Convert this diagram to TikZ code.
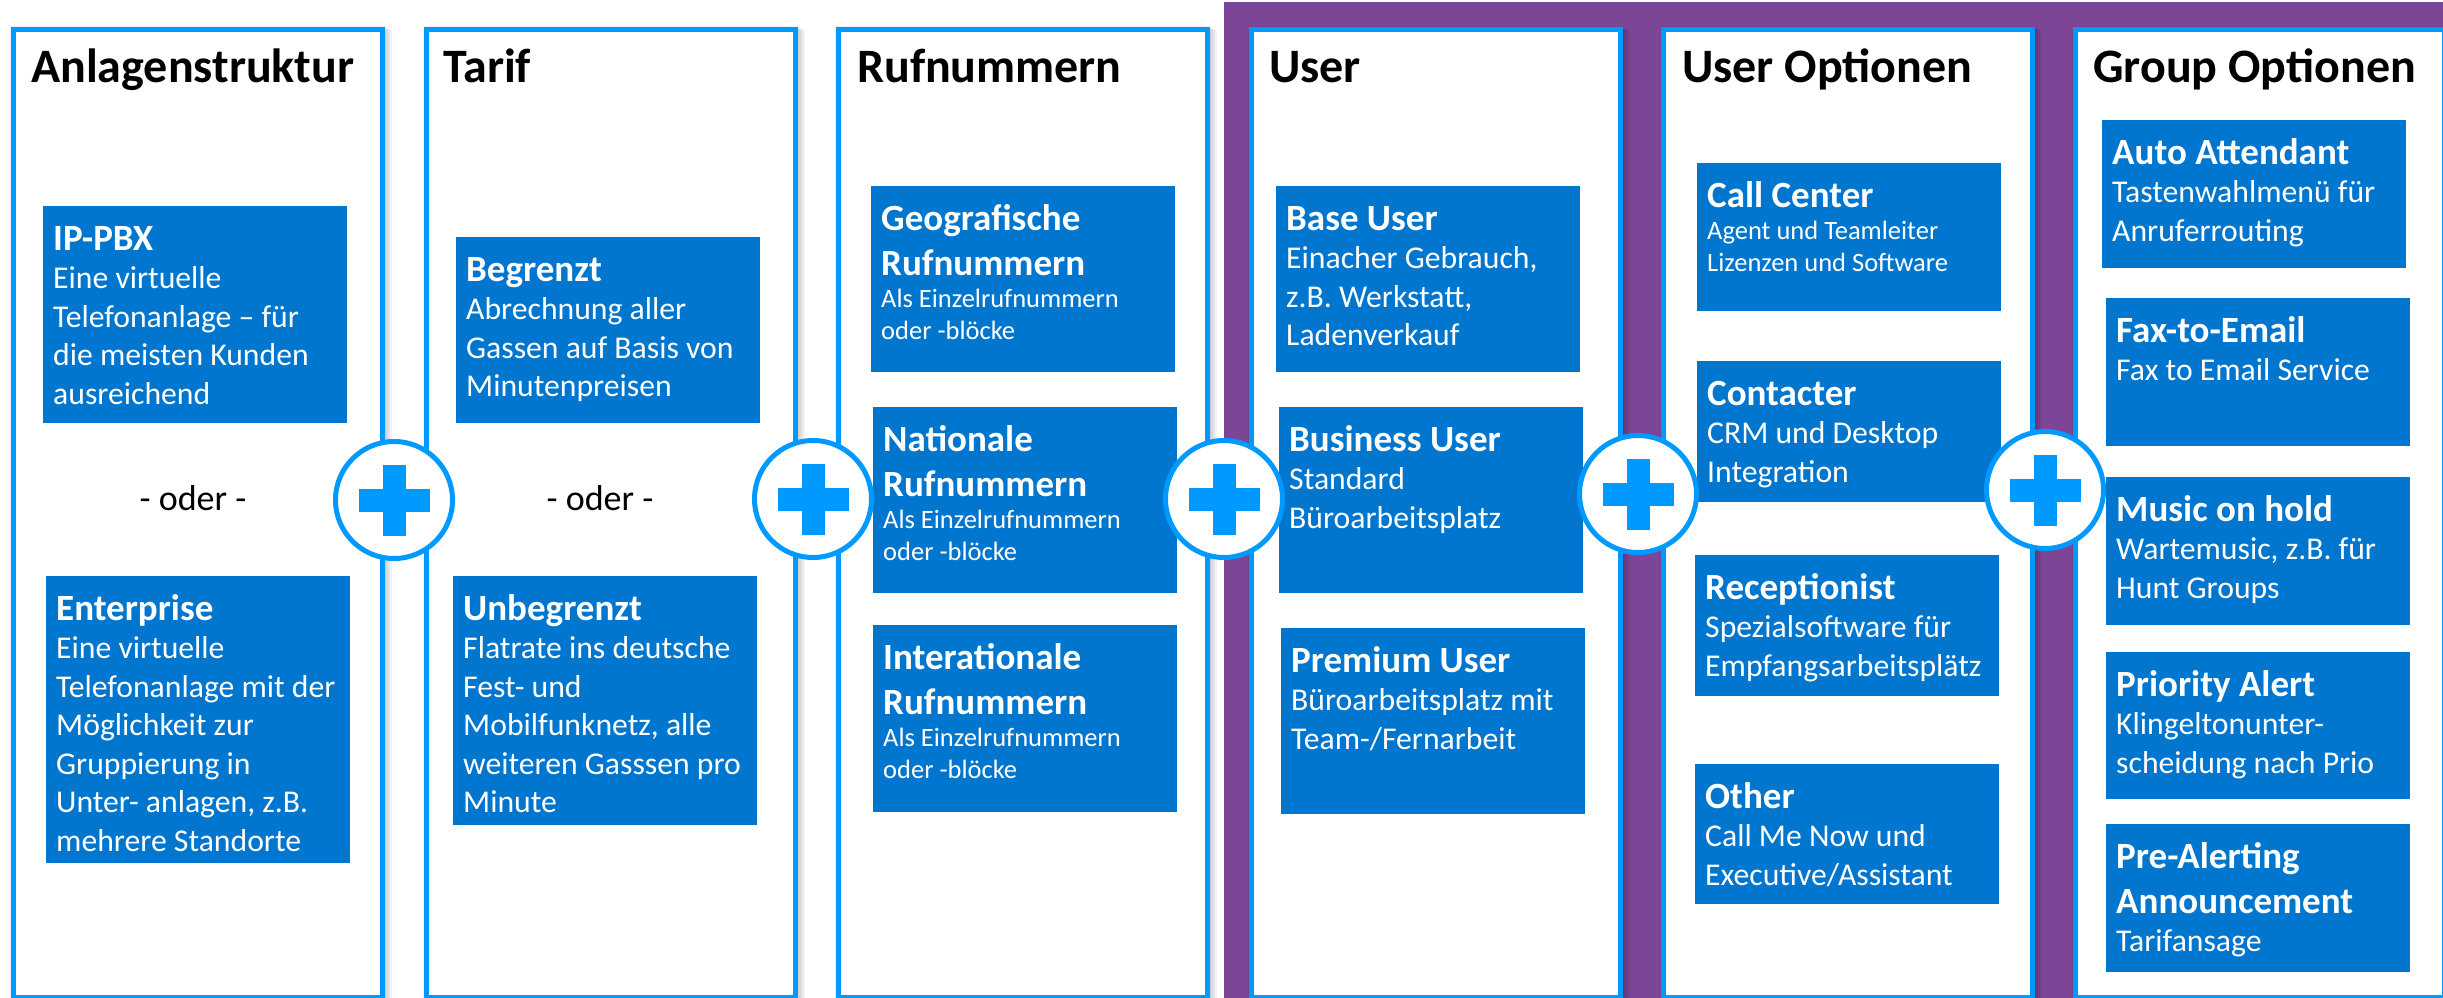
\documentclass[tikz,border=0pt]{standalone}
\usepackage{fontspec}
\setmainfont{Carlito}
\definecolor{rimblue}{RGB}{0,153,255}
\definecolor{cardblue}{RGB}{0,118,206}
\definecolor{bandpurple}{RGB}{125,69,150}
\newcommand\paneltitle{\fontsize{48}{56}\selectfont\bfseries}
\newcommand\boxtitle{\fontsize{37}{45}\selectfont\bfseries\spaceskip=0pt\xspaceskip=0pt}
\newcommand\boxbody{\fontsize{31.7}{38.5}\selectfont\spaceskip=0pt\xspaceskip=0pt}
\newcommand\boxsmall{\fontsize{26.5}{32}\selectfont\spaceskip=0pt\xspaceskip=0pt}
\tikzset{
  panel/.style={rectangle,draw=rimblue,line width=5pt,fill=white,anchor=north west,
    minimum width=369pt,minimum height=967.5pt,inner sep=0pt},
  card/.style={rectangle,fill=cardblue,anchor=north west,minimum width=304pt,inner sep=0pt},
  cardtext/.style={anchor=base west,text=white,text width=320pt,align=left,inner sep=0pt},
  headtext/.style={anchor=base west,inner sep=0pt,font=\paneltitle},
  ortext/.style={anchor=base,inner sep=0pt,font=\fontsize{36}{44}\selectfont},
  plusring/.style={circle,draw=rimblue,line width=5pt,fill=white,minimum size=117pt,inner sep=0pt}
}
\begin{document}
\begin{tikzpicture}[x=1pt,y=-1pt]
\useasboundingbox (0,0) rectangle (2443,998);
\fill[white] (0,0) rectangle (2443,998);
\fill[bandpurple] (1224,2) rectangle (2443,998);
% shadows behind the columns
\foreach \px in {8,421,833,1246,1658,2070}
  \foreach \s in {1,...,5}
    \fill[black,opacity=0.05] (\px+2*\s,25+\s) rectangle (\px+374+2*\s,998);
% columns
\node[panel] (anlage) at (10.5,27.5) {};
\node[panel] (tarif) at (423.5,27.5) {};
\node[panel] (rufnr) at (835.5,27.5) {};
\node[panel] (user) at (1248.5,27.5) {};
\node[panel] (useropt) at (1660.5,27.5) {};
\node[panel] (groupopt) at (2072.5,27.5) {};
\node[headtext] (anlagetitle) at (31,82) {Anlagenstruktur};
\node[headtext] (tariftitle) at (443,82) {Tarif};
\node[headtext] (rufnrtitle) at (857,82) {Rufnummern};
\node[headtext] (usertitle) at (1269,82) {User};
\node[headtext] (useropttitle) at (1682,82) {User Optionen};
\node[headtext] (groupopttitle) at (2093,82) {Group Optionen};
% Anlagenstruktur
\node[card,minimum height=217pt] (ippbx) at (43,206) {};
\node[cardtext] (ippbxtext) at ([shift={(10,44)}]ippbx.north west)
  {{\boxtitle IP-PBX\par}{\boxbody Eine virtuelle\\Telefonanlage – für\\die meisten Kunden\\ausreichend\par}};
\node[ortext] (anlageor) at (193,510) {- oder -};
\node[card,minimum height=287pt] (enterprise) at (46,576) {};
\node[cardtext] (enterprisetext) at ([shift={(10,44)}]enterprise.north west)
  {{\boxtitle Enterprise\par}{\boxbody Eine virtuelle\\Telefonanlage mit der\\Möglichkeit zur\\Gruppierung in\\Unter- anlagen, z.B.\\mehrere Standorte\par}};
% Tarif
\node[card,minimum height=186pt] (begrenzt) at (456,237) {};
\node[cardtext] (begrenzttext) at ([shift={(10,44)}]begrenzt.north west)
  {{\boxtitle Begrenzt\par}{\boxbody Abrechnung aller\\Gassen auf Basis von\\Minutenpreisen\par}};
\node[ortext] (tarifor) at (600,510) {- oder -};
\node[card,minimum height=249pt] (unbegrenzt) at (453,576) {};
\node[cardtext] (unbegrenzttext) at ([shift={(10,44)}]unbegrenzt.north west)
  {{\boxtitle Unbegrenzt\par}{\boxbody Flatrate ins deutsche\\Fest- und\\Mobilfunknetz, alle\\weiteren Gasssen pro\\Minute\par}};
% Rufnummern
\node[card,minimum height=186pt] (geo) at (871,186) {};
\node[cardtext] (geotext) at ([shift={(10,44)}]geo.north west)
  {{\boxtitle Geografische\\Rufnummern\par}{\boxsmall Als Einzelrufnummern\\oder -blöcke\par}};
\node[card,minimum height=186pt] (national) at (873,407) {};
\node[cardtext] (nationaltext) at ([shift={(10,44)}]national.north west)
  {{\boxtitle Nationale\\Rufnummern\par}{\boxsmall Als Einzelrufnummern\\oder -blöcke\par}};
\node[card,minimum height=187pt] (intl) at (873,625) {};
\node[cardtext] (intltext) at ([shift={(10,44)}]intl.north west)
  {{\boxtitle Interationale\\Rufnummern\par}{\boxsmall Als Einzelrufnummern\\oder -blöcke\par}};
% User
\node[card,minimum height=186pt] (baseuser) at (1276,186) {};
\node[cardtext] (baseusertext) at ([shift={(10,44)}]baseuser.north west)
  {{\boxtitle Base User\par}{\boxbody Einacher Gebrauch,\\z.B. Werkstatt,\\Ladenverkauf\par}};
\node[card,minimum height=186pt] (bususer) at (1279,407) {};
\node[cardtext] (bususertext) at ([shift={(10,44)}]bususer.north west)
  {{\boxtitle Business User\par}{\boxbody Standard\\Büroarbeitsplatz\par}};
\node[card,minimum height=186pt] (premuser) at (1281,628) {};
\node[cardtext] (premusertext) at ([shift={(10,44)}]premuser.north west)
  {{\boxtitle Premium User\par}{\boxbody Büroarbeitsplatz mit\\Team-/Fernarbeit\par}};
% User Optionen
\node[card,minimum height=148pt] (callcenter) at (1697,163) {};
\node[cardtext] (callcentertext) at ([shift={(10,44)}]callcenter.north west)
  {{\boxtitle Call Center\par}{\boxsmall Agent und Teamleiter\\Lizenzen und Software\par}};
\node[card,minimum height=141pt] (contacter) at (1697,361) {};
\node[cardtext] (contactertext) at ([shift={(10,44)}]contacter.north west)
  {{\boxtitle Contacter\par}{\boxbody CRM und Desktop\\Integration\par}};
\node[card,minimum height=141pt] (recept) at (1695,555) {};
\node[cardtext] (recepttext) at ([shift={(10,44)}]recept.north west)
  {{\boxtitle Receptionist\par}{\boxbody Spezialsoftware für\\Empfangsarbeitsplätz\par}};
\node[card,minimum height=140pt] (other) at (1695,764) {};
\node[cardtext] (othertext) at ([shift={(10,44)}]other.north west)
  {{\boxtitle Other\par}{\boxbody Call Me Now und\\Executive/Assistant\par}};
% Group Optionen
\node[card,minimum height=148pt] (autoatt) at (2102,120) {};
\node[cardtext] (autoatttext) at ([shift={(10,44)}]autoatt.north west)
  {{\boxtitle Auto Attendant\par}{\boxbody Tastenwahlmenü für\\Anruferrouting\par}};
\node[card,minimum height=148pt] (fax) at (2106,298) {};
\node[cardtext] (faxtext) at ([shift={(10,44)}]fax.north west)
  {{\boxtitle Fax-to-Email\par}{\boxbody Fax to Email Service\par}};
\node[card,minimum height=148pt] (moh) at (2106,477) {};
\node[cardtext] (mohtext) at ([shift={(10,44)}]moh.north west)
  {{\boxtitle Music on hold\par}{\boxbody Wartemusic, z.B. für\\Hunt Groups\par}};
\node[card,minimum height=147pt] (prio) at (2106,652) {};
\node[cardtext] (priotext) at ([shift={(10,44)}]prio.north west)
  {{\boxtitle Priority Alert\par}{\boxbody Klingeltonunter-\\scheidung nach Prio\par}};
\node[card,minimum height=148pt] (prealert) at (2106,824) {};
\node[cardtext] (prealerttext) at ([shift={(10,44)}]prealert.north west)
  {{\boxtitle Pre-Alerting\\Announcement\par}{\boxbody Tarifansage\par}};
% plus signs between the columns
\foreach \n/\cx/\cy in {a/394/500,b/813/499,c/1224/499,d/1638/494,e/2045/490}{
  \node[plusring] (plus\n) at (\cx,\cy) {};
  \fill[rimblue] ([shift={(-35.5,-11.5)}]plus\n.center) rectangle +(71,23);
  \fill[rimblue] ([shift={(-11.5,-35.5)}]plus\n.center) rectangle +(23,71);
}
\end{tikzpicture}
\end{document}
